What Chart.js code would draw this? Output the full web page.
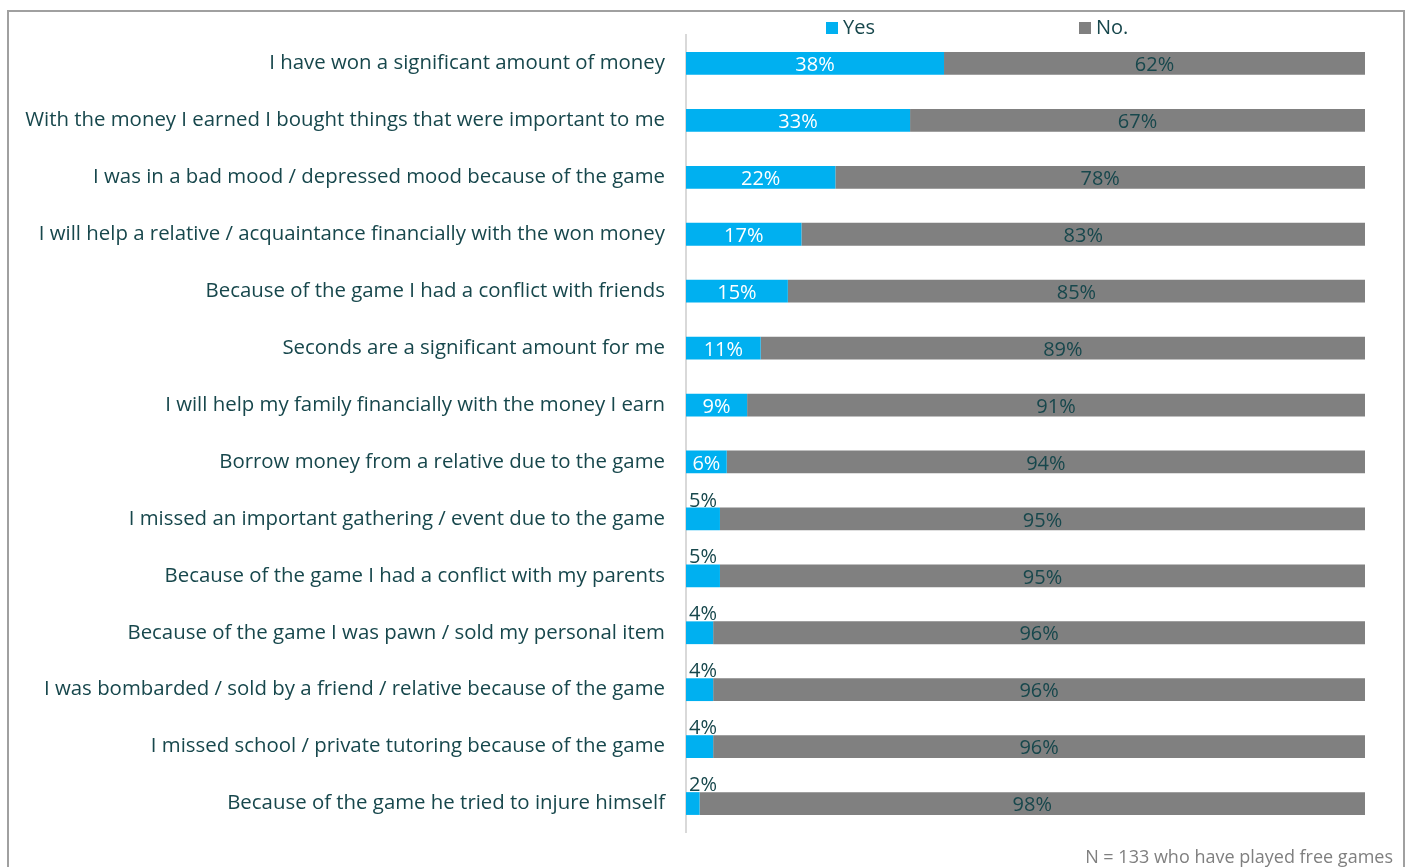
<!DOCTYPE html>
<html>
<head>
<meta charset="utf-8">
<script src="https://cdn.jsdelivr.net/npm/chart.js@4.4.1/dist/chart.umd.min.js"></script>
<style>
  html, body { margin: 0; padding: 0; background: #ffffff; }
  body { width: 1407px; height: 867px; position: relative; overflow: hidden; }
  #frame { position: absolute; left: 7px; top: 10px; width: 1398px; height: 880px; border: 2px solid #a0a0a0; box-sizing: border-box; }
  #wrap { position: absolute; left: 0; top: 0; width: 1407px; height: 867px; }
  #note { position: absolute; right: 14px; top: 844px; font-family: "Open Sans", sans-serif; font-size: 18px; color: #7f7f7f; white-space: nowrap; }
</style>
</head>
<body>
<div id="frame"></div>
<div id="wrap"><canvas id="c" width="1407" height="867"></canvas></div>
<div id="note">N = 133 who have played free games</div>
<script>
const categories = [
  "I have won a significant amount of money",
  "With the money I earned I bought things that were important to me",
  "I was in a bad mood / depressed mood because of the game",
  "I will help a relative / acquaintance financially with the won money",
  "Because of the game I had a conflict with friends",
  "Seconds are a significant amount for me",
  "I will help my family financially with the money I earn",
  "Borrow money from a relative due to the game",
  "I missed an important gathering / event due to the game",
  "Because of the game I had a conflict with my parents",
  "Because of the game I was pawn / sold my personal item",
  "I was bombarded / sold by a friend / relative because of the game",
  "I missed school / private tutoring because of the game",
  "Because of the game he tried to injure himself"
];
const yesValues = [38, 33, 22, 17, 15, 11, 9, 6, 5, 5, 4, 4, 4, 2];
const noValues  = [62, 67, 78, 83, 85, 89, 91, 94, 95, 95, 96, 96, 96, 98];
const seriesNames = ["Yes", "No."];
const seriesColors = ["#00B0F0", "#808080"];

const TEXT = "#17474c";
const FONT = '"Open Sans", sans-serif';

const labelPlugin = {
  id: 'valueLabels',
  afterDatasetsDraw(chart) {
    const ctx = chart.ctx;
    ctx.save();
    ctx.font = '20px ' + FONT;
    chart.data.datasets.forEach((ds, di) => {
      const meta = chart.getDatasetMeta(di);
      meta.data.forEach((bar, i) => {
        const v = ds.data[i];
        const cx = (bar.x + bar.base) / 2;
        const top = bar.y - bar.height / 2;
        if (di === 0) {
          if (v >= 6) {
            ctx.fillStyle = '#ffffff';
            ctx.textAlign = 'center';
            ctx.textBaseline = 'middle';
            ctx.fillText(v + '%', cx, bar.y + 2);
          } else {
            ctx.fillStyle = TEXT;
            ctx.textAlign = 'left';
            ctx.textBaseline = 'alphabetic';
            ctx.fillText(v + '%', bar.base + 3, top - 1);
          }
        } else {
          ctx.fillStyle = TEXT;
          ctx.textAlign = 'center';
          ctx.textBaseline = 'middle';
          ctx.fillText(v + '%', cx, bar.y + 2);
        }
      });
    });
    ctx.restore();
  }
};

const legendPlugin = {
  id: 'topLegend',
  afterDraw(chart) {
    const ctx = chart.ctx;
    const offsets = [140, 393];
    ctx.save();
    ctx.font = '20px ' + FONT;
    ctx.textAlign = 'left';
    ctx.textBaseline = 'middle';
    chart.data.datasets.forEach((ds, di) => {
      const x = chart.chartArea.left + offsets[di];
      ctx.fillStyle = ds.backgroundColor;
      ctx.fillRect(x, 22, 12, 12);
      ctx.fillStyle = TEXT;
      ctx.fillText(ds.label, x + 17, 28);
    });
    ctx.restore();
  }
};

new Chart(document.getElementById('c'), {
  type: 'bar',
  data: {
    labels: categories,
    datasets: [
      { label: seriesNames[0], data: yesValues, backgroundColor: seriesColors[0], borderWidth: 0 },
      { label: seriesNames[1], data: noValues, backgroundColor: seriesColors[1], borderWidth: 0 }
    ]
  },
  options: {
    indexAxis: 'y',
    responsive: false,
    animation: false,
    devicePixelRatio: 1,
    layout: { padding: { left: 0, right: 42, top: 35, bottom: 35 } },
    datasets: { bar: { categoryPercentage: 1.0, barPercentage: 0.4 } },
    plugins: { legend: { display: false }, tooltip: { enabled: false } },
    scales: {
      x: { stacked: true, min: 0, max: 100, display: false },
      y: {
        stacked: true,
        grid: { display: false, drawTicks: false },
        border: { display: true, color: '#d9d9d9', width: 2 },
        ticks: { color: TEXT, font: { family: FONT, size: 20.4 }, padding: 21, autoSkip: false },
        afterFit(scale) { scale.width = 686; }
      }
    }
  },
  plugins: [labelPlugin, legendPlugin]
});
</script>
</body>
</html>
